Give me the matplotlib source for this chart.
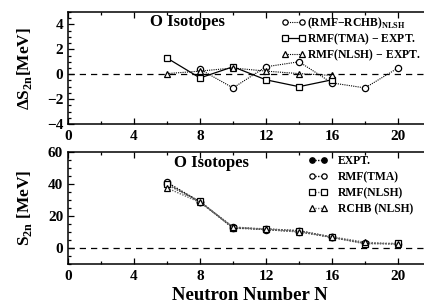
import matplotlib
matplotlib.use("Agg")
import matplotlib.pyplot as plt
from matplotlib.ticker import MultipleLocator
from matplotlib.lines import Line2D
from matplotlib.legend_handler import HandlerLine2D

plt.rcParams['font.family'] = ['Liberation Serif', 'DejaVu Serif']
plt.rcParams['font.weight'] = 'bold'
plt.rcParams['mathtext.fontset'] = 'custom'
plt.rcParams['mathtext.rm'] = 'Liberation Serif:bold'
plt.rcParams['mathtext.bf'] = 'Liberation Serif:bold'

# ---- Top panel data: Delta S2n ----
N_rchb_diff = [8, 10, 12, 14, 16, 18, 20]
d_rmf_rchb = [0.4, -1.1, 0.6, 1.0, -0.7, -1.1, 0.5]
N_tma_diff = [6, 8, 10, 12, 14, 16]
d_tma_expt = [1.3, -0.3, 0.6, -0.45, -1.0, -0.45]
N_nlsh_diff = [6, 8, 10, 12, 14, 16]
d_nlsh_expt = [0.05, 0.25, 0.5, 0.25, 0.05, -0.1]

# ---- Bottom panel data: S2n ----
N_expt = [6, 8, 10, 12, 14, 16]
s_expt = [39.7, 29.0, 12.4, 11.8, 10.8, 6.8]
N_all = [6, 8, 10, 12, 14, 16, 18, 20]
s_tma = [41.0, 28.8, 13.0, 11.5, 10.2, 6.6, 3.0, 2.5]
s_nlsh = [39.8, 29.1, 12.7, 12.0, 10.8, 6.7, 2.6, 3.0]
s_rchb = [37.5, 28.5, 13.2, 11.6, 10.0, 7.0, 3.6, 2.4]

xticks = [0, 4, 8, 12, 16, 20]

W, H = 424, 306
fig = plt.figure(figsize=(W / 100, H / 100), dpi=100)

x0 = 68 / W
xr = (68 + 22 * 16.5) / W
ax1 = fig.add_axes([x0, 1 - 124 / H, xr - x0, (124 - 12) / H])
ax2 = fig.add_axes([x0, 1 - 264 / H, xr - x0, (264 - 152) / H])

ms = 4.5
mk = dict(markerfacecolor='white', markeredgecolor='black', markersize=ms, markeredgewidth=0.9)
legprop = {'weight': 'bold', 'size': 8.4}
hmap = {Line2D: HandlerLine2D(marker_pad=0.0)}

ax1.plot(N_rchb_diff, d_rmf_rchb, 'o', linestyle=(0, (1, 1)), color='black', lw=0.8,
         label=r'(RMF$-$RCHB)$_{\mathrm{NLSH}}$', **mk)
ax1.plot(N_tma_diff, d_tma_expt, 's', linestyle='-', color='black', lw=0.9,
         label=r'RMF(TMA) $-$ EXPT.', **mk)
ax1.plot(N_nlsh_diff, d_nlsh_expt, '^', linestyle=(0, (1, 1)), color='black', lw=0.8,
         label=r'RMF(NLSH) $-$ EXPT.', **mk)
ax1.axhline(0, color='black', lw=0.9, ls=(0, (5, 4)))
ax1.set_xlim(0, 22)
ax1.set_ylim(-4, 5)
ax1.set_yticks([-4, -2, 0, 2, 4])
ax1.set_yticklabels(['\u22124', '\u22122', '0', '2', '4'])
ax1.yaxis.set_minor_locator(MultipleLocator(0.5))
ax1.set_ylabel(r'$\Delta$S$_{\mathrm{2n}}$[MeV]', fontsize=12.5, fontweight='bold', labelpad=9)
ax1.text(5.0, 4.2, 'O Isotopes', fontsize=12, fontweight='bold', ha='left', va='center')
ax1.legend(loc='upper left', bbox_to_anchor=(0.597, 0.972), frameon=False,
           handlelength=1.45, handletextpad=0.5, labelspacing=0.05, borderpad=0.0,
           borderaxespad=0.0, numpoints=2, markerscale=0.85, prop=legprop,
           handler_map=hmap)

ax2.plot(N_expt, s_expt, 'o', linestyle=(0, (1, 1)), color='black', lw=1.0,
         markerfacecolor='black', markeredgecolor='black', markersize=ms, label='EXPT.')
ax2.plot(N_all, s_tma, 'o', linestyle=(0, (1, 1)), color='black', lw=1.0,
         label='RMF(TMA)', **mk)
ax2.plot(N_all, s_nlsh, 's', linestyle=(0, (1, 1)), color='dimgray', lw=1.0,
         label='RMF(NLSH)', **mk)
ax2.plot(N_all, s_rchb, '^', linestyle=(0, (1, 1)), color='dimgray', lw=1.0,
         label='RCHB (NLSH)', **mk)
ax2.axhline(0, color='black', lw=0.9, ls=(0, (5, 4)))
ax2.set_xlim(0, 22)
ax2.set_ylim(-10, 60)
ax2.set_yticks([0, 20, 40, 60])
ax2.yaxis.set_minor_locator(MultipleLocator(5))
ax2.set_ylabel(r'S$_{\mathrm{2n}}$ [MeV]', fontsize=12.5, fontweight='bold', labelpad=10)
ax2.set_xlabel('Neutron Number N', fontsize=13.5, fontweight='bold', labelpad=3)
ax2.text(6.4, 53, 'O Isotopes', fontsize=12, fontweight='bold', ha='left', va='center')
ax2.legend(loc='upper left', bbox_to_anchor=(0.672, 0.975), frameon=False,
           handlelength=1.05, handletextpad=1.2, labelspacing=0.36, borderpad=0.0,
           borderaxespad=0.0, numpoints=2, markerscale=0.85, prop=legprop,
           handler_map=hmap)

for ax in (ax1, ax2):
    ax.set_xticks(xticks)
    ax.xaxis.set_minor_locator(MultipleLocator(2))
    ax.tick_params(which='both', direction='in', top=True, right=False, labelsize=11, width=0.9)
    ax.tick_params(which='major', length=4)
    ax.tick_params(which='minor', length=2)
    for lab in ax.get_xticklabels() + ax.get_yticklabels():
        lab.set_fontweight('bold')
    for s in ax.spines.values():
        s.set_linewidth(1.1)
    ax.tick_params(axis='x', pad=4)

fig.savefig('out.png', dpi=100)
